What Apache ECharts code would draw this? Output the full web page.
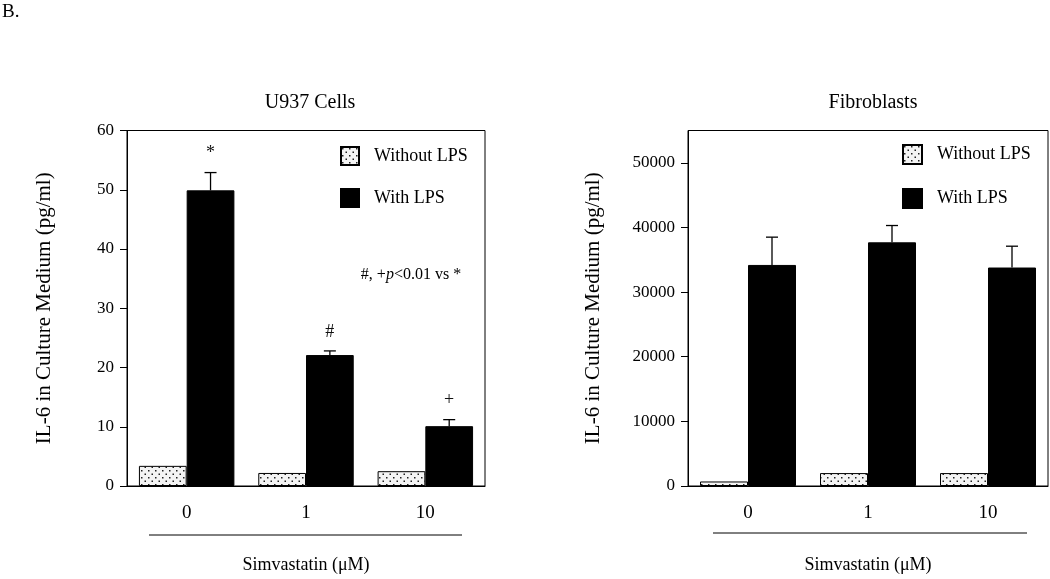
<!DOCTYPE html>
<html>
<head>
<meta charset="utf-8">
<script src="https://cdn.jsdelivr.net/npm/echarts@6/dist/echarts.min.js"></script>
<style>
html,body{margin:0;padding:0;background:#fff;}
#chart{width:1050px;height:579px;}
</style>
</head>
<body>
<div id="chart"></div>
<script>
// ---- Data ----
const categories = ['0', '1', '10'];
const u937Without = [3.4, 2.2, 2.5];
const u937With = [49.9, 22.1, 10.1];
const u937WithErr = [3.0, 0.7, 1.1];
const u937Annot = ['*', '#', '+'];
const fibWithout = [700, 2000, 2000];
const fibWith = [34200, 37700, 33800];
const fibWithErr = [4300, 2600, 3300];
const fibAnnot = ['', '', ''];
const leftYTicks = {min: 0, max: 60, interval: 10};
const rightYTicks = {min: 0, max: 55000, interval: 10000};

const FONT = 'Liberation Serif';

// dotted pattern
const tile = document.createElement('canvas');
tile.width = 7; tile.height = 7;
const tctx = tile.getContext('2d');
tctx.fillStyle = '#f4f4f4';
tctx.fillRect(0, 0, 7, 7);
tctx.fillStyle = '#222';
tctx.fillRect(1, 1, 1.5, 1.5);
tctx.fillRect(4.5, 4.5, 1.5, 1.5);
const dotted = {image: tile, repeat: 'repeat'};

function errSeries(idx, vals, errs, annots) {
  return {
    type: 'custom',
    xAxisIndex: idx, yAxisIndex: idx,
    silent: true,
    z: 5,
    data: vals.map((v, i) => [i, v, errs[i]]),
    renderItem: function (params, api) {
      const i = api.value(0), v = api.value(1), e = api.value(2);
      const ann = annots[i];
      const band = api.size([1, 0])[0];
      const base = api.coord([i, v]);
      const top = api.coord([i, v + e]);
      const cx = base[0] + band * 0.2;
      const children = [
        {type: 'line', shape: {x1: cx, y1: base[1], x2: cx, y2: top[1]}, style: {stroke: '#000', lineWidth: 1.3}},
        {type: 'line', shape: {x1: cx - 6, y1: top[1], x2: cx + 6, y2: top[1]}, style: {stroke: '#000', lineWidth: 1.3}}
      ];
      if (ann) {
        children.push({type: 'text', style: {text: ann, x: cx, y: top[1] - 19, align: 'center', verticalAlign: 'middle', font: '18px "' + FONT + '"', fill: '#111'}});
      }
      return {type: 'group', children: children};
    }
  };
}

function yAxis(idx, t, nameGap) {
  return {
    type: 'value', gridIndex: idx,
    min: t.min, max: t.max, interval: t.interval,
    name: 'IL-6 in Culture Medium (pg/ml)',
    nameLocation: 'middle', nameGap: nameGap, nameRotate: 90,
    nameTextStyle: {fontFamily: FONT, fontSize: 21, color: '#000'},
    axisLine: {show: true, lineStyle: {color: '#000', width: 1}},
    axisTick: {show: true, length: 7, lineStyle: {color: '#000'}},
    axisLabel: {fontFamily: FONT, fontSize: 17, color: '#000', margin: 13, showMaxLabel: idx === 0,
      formatter: function (v) { return String(v); }},
    splitLine: {show: false}
  };
}

function xAxis(idx) {
  return {
    type: 'category', gridIndex: idx, data: categories,
    name: 'Simvastatin (\u03bcM)', nameLocation: 'middle', nameGap: 70,
    nameTextStyle: {fontFamily: FONT, fontSize: 18, color: '#000'},
    axisLine: {lineStyle: {color: '#000', width: 1}},
    axisTick: {show: false},
    axisLabel: {fontFamily: FONT, fontSize: 19, color: '#000', margin: 18}
  };
}

const chart = echarts.init(document.getElementById('chart'), null, {renderer: 'canvas'});
chart.setOption({
  backgroundColor: '#fff',
  animation: false,
  title: [
    {text: 'U937 Cells', left: 305, top: 88, textAlign: 'center', textStyle: {fontFamily: FONT, fontSize: 20, fontWeight: 'normal', color: '#000'}},
    {text: 'Fibroblasts', left: 868, top: 88, textAlign: 'center', textStyle: {fontFamily: FONT, fontSize: 20, fontWeight: 'normal', color: '#000'}}
  ],
  legend: [
    {
      orient: 'vertical', left: 335, top: 141, itemWidth: 18, itemHeight: 18, itemGap: 22, icon: 'rect',
      data: ['Without LPS', 'With LPS'],
      textStyle: {fontFamily: FONT, fontSize: 18, color: '#000', padding: [0, 0, 0, 10]},
      selectedMode: false
    },
    {
      orient: 'vertical', left: 897, top: 139, itemWidth: 19, itemHeight: 19, itemGap: 23, icon: 'rect',
      data: ['Without LPS ', 'With LPS '],
      textStyle: {fontFamily: FONT, fontSize: 18, color: '#000', padding: [0, 0, 0, 10]},
      selectedMode: false
    }
  ],
  grid: [
    {left: 127, top: 130.5, width: 358, height: 359.5, show: true, borderColor: '#000', borderWidth: 1, backgroundColor: 'transparent'},
    {left: 688, top: 130.5, width: 360, height: 359.5, show: true, borderColor: '#000', borderWidth: 1, backgroundColor: 'transparent'}
  ],
  xAxis: [xAxis(0), xAxis(1)],
  yAxis: [yAxis(0, leftYTicks, 72), yAxis(1, rightYTicks, 84)],
  series: [
    {name: 'Without LPS', type: 'bar', xAxisIndex: 0, yAxisIndex: 0, data: u937Without, barGap: '0%', barCategoryGap: '20%',
      itemStyle: {color: dotted, borderColor: '#000', borderWidth: 1}},
    {name: 'With LPS', type: 'bar', xAxisIndex: 0, yAxisIndex: 0, data: u937With, barGap: '0%', barCategoryGap: '20%',
      itemStyle: {color: '#000', borderColor: '#000', borderWidth: 1}},
    errSeries(0, u937With, u937WithErr, u937Annot),
    {name: 'Without LPS ', type: 'bar', xAxisIndex: 1, yAxisIndex: 1, data: fibWithout, barGap: '0%', barCategoryGap: '20%',
      itemStyle: {color: dotted, borderColor: '#000', borderWidth: 1}},
    {name: 'With LPS ', type: 'bar', xAxisIndex: 1, yAxisIndex: 1, data: fibWith, barGap: '0%', barCategoryGap: '20%',
      itemStyle: {color: '#000', borderColor: '#000', borderWidth: 1}},
    errSeries(1, fibWith, fibWithErr, fibAnnot)
  ],
  graphic: [
    {type: 'text', left: 2, top: 3, style: {text: 'B.', font: '19px "' + FONT + '"', fill: '#000'}},
    {type: 'line', shape: {x1: 149, y1: 535, x2: 462, y2: 535}, style: {stroke: '#000', lineWidth: 1}},
    {type: 'line', shape: {x1: 713, y1: 533, x2: 1027, y2: 533}, style: {stroke: '#000', lineWidth: 1}},
    {type: 'text', x: 411, y: 275, style: {
      text: '{n|#, +}{i|p}{n|<0.01 vs *}', align: 'center', verticalAlign: 'middle',
      rich: {n: {fontFamily: FONT, fontSize: 16, fill: '#000'}, i: {fontFamily: FONT, fontSize: 16, fontStyle: 'italic', fill: '#000'}}
    }}
  ]
});
</script>
</body>
</html>
